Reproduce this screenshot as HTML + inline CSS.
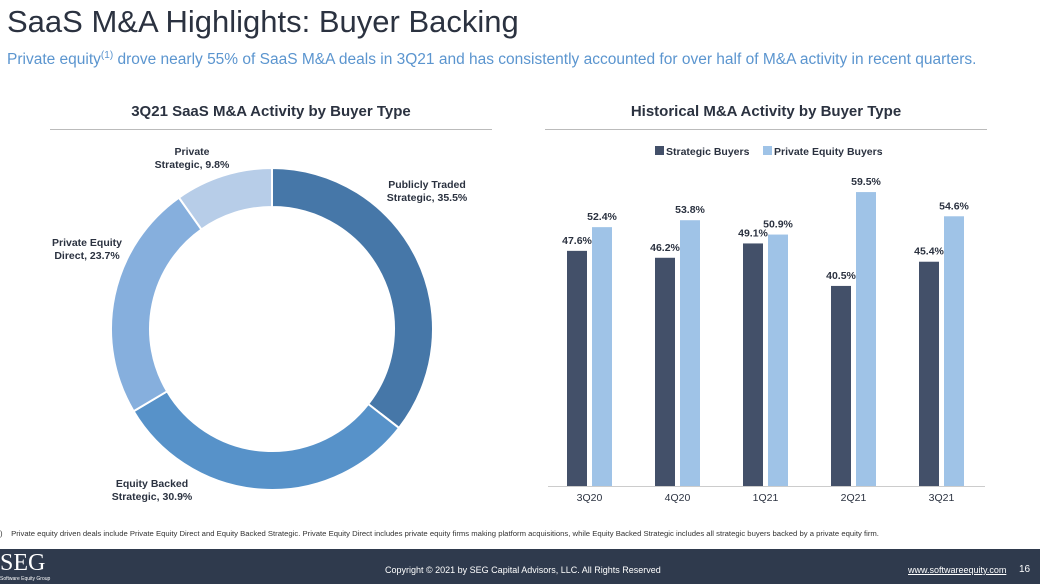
<!DOCTYPE html>
<html><head><meta charset="utf-8"><style>
body{margin:0;width:1040px;height:584px;overflow:hidden;background:#fff;font-family:"Liberation Sans",sans-serif;position:relative}
.abs{position:absolute}
</style></head><body>
<div class="abs" style="left:7px;top:4px;font-size:31px;color:#2b3240;white-space:nowrap">SaaS M&amp;A Highlights: Buyer Backing</div>
<div class="abs" style="left:7px;top:50px;font-size:15.5px;color:#5b95cf;white-space:nowrap">Private equity<sup style="font-size:10px">(1)</sup> drove nearly 55% of SaaS M&amp;A deals in 3Q21 and has consistently accounted for over half of M&amp;A activity in recent quarters.</div>
<svg class="abs" style="left:0;top:0" width="1040" height="584" font-family="Liberation Sans, sans-serif">
<text x="271" y="116" text-anchor="middle" font-size="15" font-weight="bold" fill="#2b3240">3Q21 SaaS M&amp;A Activity by Buyer Type</text>
<line x1="50" x2="492" y1="129.5" y2="129.5" stroke="#bbb"/>
<text x="766" y="116" text-anchor="middle" font-size="15" font-weight="bold" fill="#2b3240">Historical M&amp;A Activity by Buyer Type</text>
<line x1="545" x2="987" y1="129.5" y2="129.5" stroke="#bbb"/>
<g id="donut"></g>
<g id="bars"></g>
<rect x="0" y="549" width="1040" height="35" fill="#2f3a4d"/>
</svg>
<div class="abs" style="left:0;top:529px;font-size:7.7px;color:#333;white-space:nowrap">)&nbsp;&nbsp;&nbsp;&nbsp;Private equity driven deals include Private Equity Direct and Equity Backed Strategic. Private Equity Direct includes private equity firms making platform acquisitions, while Equity Backed Strategic includes all strategic buyers backed by a private equity firm.</div>
<div class="abs" style="left:0;top:551px;font-family:'Liberation Serif',serif;font-size:24px;color:#fff;line-height:24px">SEG</div>
<div class="abs" style="left:0;top:576px;font-size:5px;color:#fff">Software Equity Group</div>
<div class="abs" style="left:385px;top:565px;font-size:9px;color:#fff;white-space:nowrap">Copyright © 2021 by SEG Capital Advisors, LLC. All Rights Reserved</div>
<div class="abs" style="left:908px;top:565px;font-size:9px;color:#fff;text-decoration:underline">www.softwareequity.com</div>
<div class="abs" style="left:1019px;top:564px;font-size:10px;color:#fff">16</div>
<script>
const donutLabels=["Publicly Traded Strategic","Equity Backed Strategic","Private Equity Direct","Private Strategic"];
const donutValues=[35.5,30.9,23.7,9.8];
const donutColors=["#4677a8","#5792c9","#86afdd","#b7cde8"];
const categories=["3Q20","4Q20","1Q21","2Q21","3Q21"];
const strategic=[47.6,46.2,49.1,40.5,45.4];
const privateEquity=[52.4,53.8,50.9,59.5,54.6];
const NS="http://www.w3.org/2000/svg";
function mk(t,a,p){const e=document.createElementNS(NS,t);for(const k in a)e.setAttribute(k,a[k]);p.appendChild(e);return e;}
const dg=document.getElementById('donut');
const cx=272,cy=329,R=161,r=122;
const tot=donutValues.reduce((a,b)=>a+b,0);
let a0=0;
const labelPos=[[427,188],[152,487],[87,246],[192,155]];
const labelLines=[["Publicly Traded","Strategic, 35.5%"],["Equity Backed","Strategic, 30.9%"],["Private Equity","Direct, 23.7%"],["Private","Strategic, 9.8%"]];
donutValues.forEach((v,i)=>{
 const a1=a0+v/tot*2*Math.PI;
 const p=(a,rad)=>[cx+rad*Math.sin(a),cy-rad*Math.cos(a)];
 const [x1,y1]=p(a0,R),[x2,y2]=p(a1,R),[x3,y3]=p(a1,r),[x4,y4]=p(a0,r);
 const lf=(a1-a0)>Math.PI?1:0;
 const s=mk('path',{d:`M${x1},${y1}A${R},${R} 0 ${lf} 1 ${x2},${y2}L${x3},${y3}A${r},${r} 0 ${lf} 0 ${x4},${y4}Z`,fill:donutColors[i],stroke:'#fff','stroke-width':2},dg);
 
 
 const lp=labelPos[i];
 const t=mk('text',{x:lp[0],y:lp[1],'text-anchor':'middle','font-size':10.5,'font-weight':'bold',fill:'#2b3240'},dg);
 
 
 labelLines[i].forEach((ln,j)=>{const ts=mk('tspan',{x:lp[0],dy:j?13:0},t);ts.textContent=ln;});
 a0=a1;
});
const bg=document.getElementById('bars');
const base=486,scale=4.94;
const y=v=>base-v*scale;
const x0=567,step=88,bw=20,gap=5;
const lg=mk('g',{},bg);


mk('rect',{x:655,y:146,width:9,height:9,fill:'#435069'},lg);
let lt=mk('text',{x:666,y:155,'font-size':10.5,'font-weight':'bold',fill:'#2b3240'},lg);lt.textContent="Strategic Buyers";
mk('rect',{x:763,y:146,width:9,height:9,fill:'#9fc3e7'},lg);
lt=mk('text',{x:774,y:155,'font-size':10.5,'font-weight':'bold',fill:'#2b3240'},lg);lt.textContent="Private Equity Buyers";
mk('line',{x1:548,x2:985,y1:base+0.5,y2:base+0.5,stroke:'#ccc'},bg);
categories.forEach((c,i)=>{
 const xs=x0+i*step,xp=xs+bw+gap;
 const b1=mk('rect',{x:xs,y:y(strategic[i]),width:bw,height:base-y(strategic[i]),fill:'#435069'},bg);
 
 
 const b2=mk('rect',{x:xp,y:y(privateEquity[i]),width:bw,height:base-y(privateEquity[i]),fill:'#9fc3e7'},bg);
 
 
 const t1=mk('text',{x:xs+bw/2,y:y(strategic[i])-7,'text-anchor':'middle','font-size':10.5,'font-weight':'bold',fill:'#2b3240'},bg);
 t1.textContent=strategic[i].toFixed(1)+'%';
 
 
 const t2=mk('text',{x:xp+bw/2,y:y(privateEquity[i])-7,'text-anchor':'middle','font-size':10.5,'font-weight':'bold',fill:'#2b3240'},bg);
 t2.textContent=privateEquity[i].toFixed(1)+'%';
 
 
 const tc=mk('text',{x:xs+bw+gap/2,y:501,'text-anchor':'middle','font-size':10.5,fill:'#2b3240'},bg);
 tc.textContent=c;
 
 
});
</script>
</body></html>
